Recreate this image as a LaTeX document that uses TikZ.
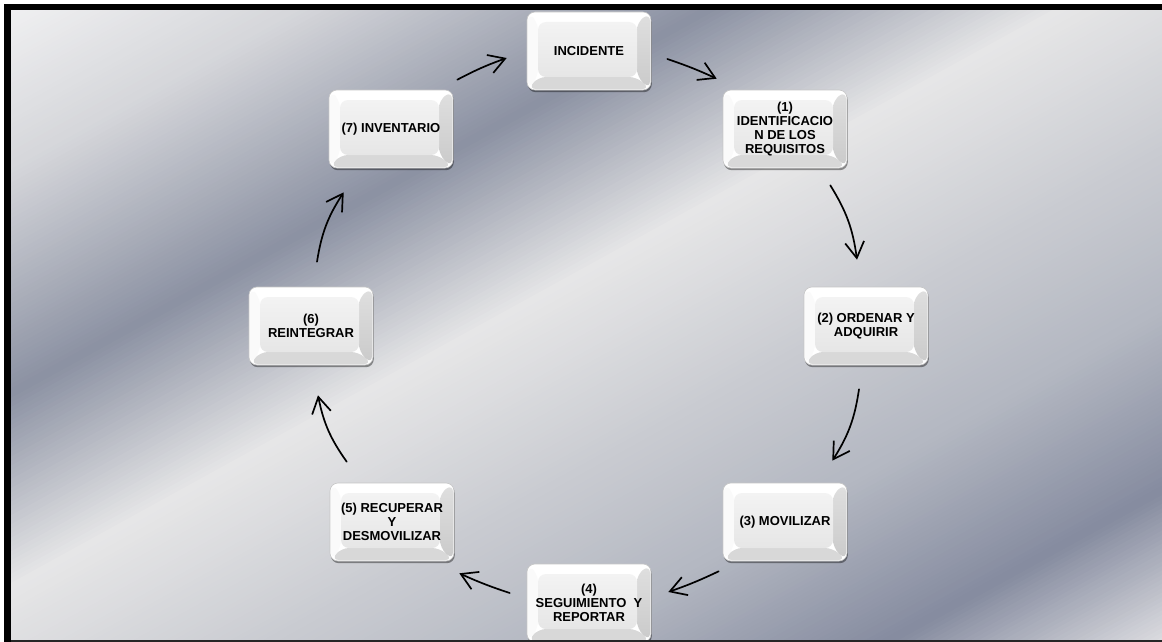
\documentclass[tikz,border=0pt]{standalone}
\usepackage{fontspec}
\setmainfont{Liberation Sans}
\usetikzlibrary{arrows.meta,calc,shadows}

% metallic backdrop colours, from the upper left corner to the lower right one
\definecolor{g0}{HTML}{F2F2F3}
\definecolor{g1}{HTML}{D6D7DB}
\definecolor{g2}{HTML}{8C92A3}
\definecolor{g3}{HTML}{E6E6E7}
\definecolor{g4}{HTML}{C8CAD0}
\definecolor{g5}{HTML}{B4B8C2}
\definecolor{g6}{HTML}{868CA0}
\definecolor{g7}{HTML}{E0E0E3}
% key cap colours
\definecolor{bevelbottom}{HTML}{D8D8D8}
\definecolor{bevelright}{HTML}{CACACA}
\definecolor{bevelleft}{HTML}{FAFAFA}
\definecolor{facetop}{HTML}{F3F3F3}
\definecolor{facebot}{HTML}{E6E6E6}

\tikzset{
  stepbox/.style={
    rectangle, rounded corners=8pt,
    minimum width=124pt, minimum height=78pt, inner sep=2pt,
    align=center, font=\bfseries\fontsize{13}{13.8}\selectfont,
    fill=white, draw=gray!45, line width=0.6pt,
    drop shadow={shadow xshift=0.8pt, shadow yshift=-2.2pt, opacity=0.4, fill=black},
    path picture={
      \path (path picture bounding box.south west) coordinate (pa)
            (path picture bounding box.north east) coordinate (pb);
      \fill[bevelbottom] ($(pa)+(1pt,1pt)$) -- ($(pa-|pb)+(-1pt,1pt)$)
        -- ($(pa-|pb)+(-14pt,13pt)$) -- ($(pa)+(11pt,13pt)$) -- cycle;
      \shade[top color=bevelright!60!white, bottom color=bevelright]
        ($(pa-|pb)+(-1pt,1pt)$) -- ($(pb)+(-1pt,-1pt)$)
        -- ($(pb)+(-14pt,-10pt)$) -- ($(pa-|pb)+(-14pt,13pt)$) -- cycle;
      \fill[bevelleft] ($(pa)+(1pt,1pt)$) -- ($(pa|-pb)+(1pt,-1pt)$)
        -- ($(pa|-pb)+(11pt,-10pt)$) -- ($(pa)+(11pt,13pt)$) -- cycle;
      \shade[top color=facetop, bottom color=facebot]
        ($(pa)+(11pt,13pt)$) rectangle ($(pb)+(-14pt,-10pt)$);
    }
  },
  flow/.style={
    draw=black, line width=1.7pt, line cap=round,
    -{Straight Barb[length=16pt, width=19pt, line width=1.7pt]}
  }
}

\begin{document}
\begin{tikzpicture}[x=1pt, y=-1pt]
\useasboundingbox (0,0) rectangle (1162,642);
\fill[white] (0,0) rectangle (1162,642);
\fill[black] (4,4) rectangle (1162,642);

% diagonal brushed-metal gradient, built from thin stripes
\begin{scope}
  \clip (11,11) rectangle (1162,639.5);
  \foreach \ta/\tb/\ca/\cb in {0/150/g0/g1, 150/350/g1/g2, 350/520/g2/g3,
      520/700/g3/g4, 700/830/g4/g5, 830/990/g5/g6, 990/1130/g6/g7}{
    \pgfmathtruncatemacro{\nn}{(\tb-\ta)/4}
    \foreach \k in {0,...,\nn}{
      \pgfmathsetmacro{\ua}{\ta+(\tb-\ta)*\k/(\nn+1)}
      \pgfmathsetmacro{\ub}{\ta+(\tb-\ta)*(\k+1)/(\nn+1)+0.8}
      \pgfmathtruncatemacro{\pc}{100*\k/\nn}
      \fill[\cb!\pc!\ca]
        ({\ua*0.482-1600*0.876},{\ua*0.876+1600*0.482}) --
        ({\ua*0.482+1600*0.876},{\ua*0.876-1600*0.482}) --
        ({\ub*0.482+1600*0.876},{\ub*0.876-1600*0.482}) --
        ({\ub*0.482-1600*0.876},{\ub*0.876+1600*0.482}) -- cycle;
    }
  }
\end{scope}

% the cycle of steps
\node[stepbox] (inc) at (589,51)  {INCIDENTE};
\node[stepbox] (req) at (785,129) {(1)\\IDENTIFICACIO\\N DE LOS\\REQUISITOS};
\node[stepbox] (ord) at (866,326) {(2) ORDENAR Y\\ADQUIRIR};
\node[stepbox] (mov) at (785,522) {(3) MOVILIZAR};
\node[stepbox] (seg) at (589,603) {(4)\\SEGUIMIENTO\ \ Y\\REPORTAR};
\node[stepbox] (rec) at (392,522) {(5) RECUPERAR\\Y\\DESMOVILIZAR};
\node[stepbox] (rei) at (311,326) {(6)\\REINTEGRAR};
\node[stepbox] (inv) at (391,129) {(7) INVENTARIO};

% clockwise arrows between the steps
\draw[flow] ($(inv.north east)+(4,-10)$) to[bend left=4]  ($(inc.west)+(-20,7)$);
\draw[flow] ($(inc.east)+(16,8)$)        to[bend left=3]  ($(req.north west)+(-6,-11)$);
\draw[flow] ($(req.south east)+(-17,17)$) to[bend left=12] ($(ord.north)+(-9,-27)$);
\draw[flow] ($(ord.south)+(-7,24)$)      to[bend left=12] ($(mov.north east)+(-15,-22)$);
\draw[flow] ($(mov.south west)+(-4,10)$) to[bend left=3]  ($(seg.east)+(17,-11)$);
\draw[flow] ($(seg.west)+(-17,-10)$)     to[bend left=3]  ($(rec.south east)+(5,12)$);
\draw[flow] ($(rec.north west)+(17,-21)$) to[bend left=12] ($(rei.south)+(7,30)$);
\draw[flow] ($(rei.north)+(6,-25)$)      to[bend left=12] ($(inv.south west)+(15,24)$);

% lower frame edge
\fill[black!85] (11,639.5) rectangle (1162,642);
\end{tikzpicture}
\end{document}
